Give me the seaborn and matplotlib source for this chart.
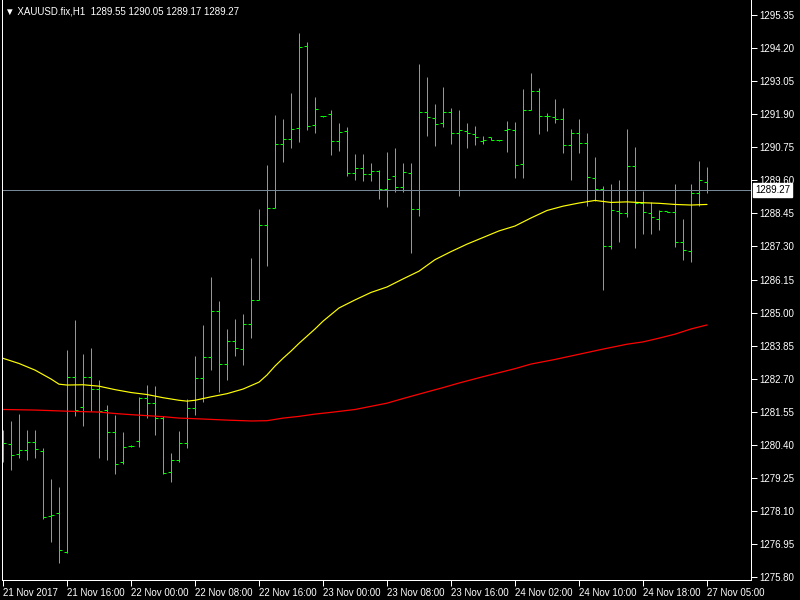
import numpy as np
import pandas as pd
import matplotlib
matplotlib.use("Agg")
import matplotlib.pyplot as plt
import seaborn as sns

# XAUUSD H1 bars, 21 Nov 08:00 .. 27 Nov 05:00
opens = [1280.57, 1280.42, 1280.07, 1280.21, 1280.49, 1280.17, 1277.91, 1278.02, 1276.69, 1282.75,
         1281.70, 1282.75, 1282.33, 1281.60, 1280.83, 1279.79, 1280.35, 1280.52, 1282.02, 1281.84,
         1281.35, 1279.44, 1279.89, 1280.45, 1281.67, 1282.71, 1283.45, 1285.04, 1283.20, 1284.00,
         1283.72, 1284.59, 1285.44, 1288.04, 1288.62, 1290.85, 1291.02, 1291.41, 1294.26, 1291.51,
         1291.82, 1291.89, 1290.96, 1291.30, 1289.84, 1290.02, 1289.81, 1289.91, 1289.29, 1289.74,
         1289.36, 1289.84, 1288.59, 1291.96, 1291.76, 1291.58, 1291.96, 1291.23, 1291.30, 1291.20,
         1290.96, 1291.09, 1290.99, 1291.34, 1291.34, 1290.16, 1292.03, 1292.69, 1291.82, 1291.79,
         1291.72, 1290.82, 1291.23, 1290.89, 1289.67, 1289.29, 1287.30, 1288.52, 1288.45, 1290.09,
         1288.80, 1288.45, 1288.24, 1288.52, 1288.49, 1287.44, 1287.13, 1289.15, 1289.55]
highs = [1280.91, 1281.23, 1281.47, 1280.91, 1280.91, 1280.29, 1279.21, 1278.93, 1283.70, 1284.74,
         1283.56, 1283.77, 1282.65, 1281.78, 1281.44, 1280.84, 1280.38, 1282.06, 1282.48, 1282.44,
         1281.39, 1280.10, 1280.88, 1281.99, 1283.49, 1284.57, 1286.24, 1285.40, 1284.43, 1284.77,
         1284.95, 1286.90, 1288.60, 1290.13, 1291.87, 1291.73, 1292.64, 1294.72, 1294.41, 1292.50,
         1291.85, 1292.04, 1291.59, 1291.45, 1290.51, 1290.51, 1290.20, 1289.96, 1290.58, 1290.72,
         1290.20, 1290.20, 1293.64, 1293.19, 1292.25, 1292.84, 1292.11, 1292.04, 1291.59, 1291.49,
         1291.14, 1291.09, 1291.00, 1291.66, 1291.63, 1292.77, 1293.33, 1292.81, 1291.94, 1292.43,
         1292.11, 1291.38, 1291.73, 1291.24, 1290.41, 1289.40, 1289.47, 1289.61, 1291.38, 1290.76,
         1289.23, 1288.83, 1288.56, 1288.52, 1289.47, 1288.25, 1289.47, 1290.27, 1290.05]
lows = [1279.81, 1279.52, 1279.95, 1279.88, 1279.95, 1277.83, 1277.03, 1276.30, 1276.65, 1281.41,
        1281.06, 1281.58, 1279.95, 1279.88, 1279.39, 1279.74, 1280.32, 1280.33, 1281.34, 1280.75,
        1279.39, 1279.11, 1279.81, 1280.30, 1281.45, 1281.90, 1283.01, 1282.25, 1282.66, 1283.50,
        1283.18, 1284.12, 1285.44, 1286.63, 1288.62, 1290.25, 1290.73, 1290.94, 1291.36, 1291.25,
        1291.80, 1290.49, 1290.63, 1289.76, 1289.62, 1289.58, 1289.58, 1288.96, 1288.68, 1289.20,
        1289.20, 1287.07, 1288.37, 1291.15, 1290.80, 1291.46, 1290.87, 1289.06, 1290.72, 1290.83,
        1290.86, 1290.99, 1290.98, 1290.58, 1289.68, 1289.68, 1292.03, 1291.21, 1291.31, 1291.60,
        1290.55, 1289.61, 1290.55, 1288.72, 1288.89, 1285.78, 1287.22, 1287.46, 1288.33, 1287.25,
        1287.74, 1287.74, 1287.88, 1288.49, 1287.29, 1286.84, 1286.77, 1288.72, 1289.17]
closes = [1280.45, 1280.03, 1280.21, 1280.49, 1280.24, 1277.90, 1277.95, 1276.76, 1282.75, 1281.60,
          1282.75, 1282.33, 1281.57, 1280.83, 1279.75, 1280.31, 1280.35, 1282.02, 1281.84, 1281.35,
          1279.41, 1279.89, 1280.45, 1281.67, 1282.71, 1283.45, 1285.04, 1283.20, 1284.00, 1283.76,
          1284.59, 1285.44, 1288.04, 1288.62, 1290.85, 1291.02, 1291.37, 1294.22, 1291.48, 1292.07,
          1291.82, 1290.96, 1291.27, 1289.84, 1290.02, 1289.81, 1289.91, 1289.29, 1289.63, 1289.36,
          1289.88, 1288.59, 1291.96, 1291.79, 1291.55, 1291.96, 1291.23, 1291.34, 1291.23, 1291.09,
          1290.99, 1290.99, 1290.99, 1291.37, 1290.12, 1292.03, 1292.69, 1291.82, 1291.82, 1291.72,
          1290.82, 1291.23, 1290.89, 1289.70, 1289.29, 1287.30, 1288.56, 1288.45, 1290.09, 1288.80,
          1288.49, 1288.31, 1288.52, 1288.49, 1287.44, 1287.16, 1289.15, 1289.60, 1289.27]

# moving averages (bar index, price)
yellow_idx = [0, 2, 4, 6, 7, 8, 10, 12, 14, 16, 18, 20, 22, 23, 24, 26, 28, 30, 32, 33, 34, 35, 36,
              37, 38, 39, 40, 42, 44, 46, 48, 50, 52, 54, 56, 58, 60, 62, 64, 66, 68, 70, 72, 74,
              76, 78, 80, 82, 84, 86, 88]
yellow_ma = [1283.41, 1283.23, 1283.00, 1282.69, 1282.51, 1282.48, 1282.49, 1282.44, 1282.32, 1282.22,
             1282.15, 1282.04, 1281.95, 1281.92, 1281.95, 1282.07, 1282.18, 1282.34, 1282.58, 1282.83,
             1283.14, 1283.41, 1283.66, 1283.93, 1284.18, 1284.43, 1284.70, 1285.16, 1285.44, 1285.70,
             1285.89, 1286.17, 1286.44, 1286.84, 1287.12, 1287.38, 1287.61, 1287.84, 1288.01, 1288.29,
             1288.55, 1288.70, 1288.81, 1288.90, 1288.83, 1288.85, 1288.82, 1288.80, 1288.76, 1288.74,
             1288.76]
red_idx = [0, 4, 8, 12, 14, 16, 20, 22, 24, 28, 31, 33, 35, 37, 39, 41, 44, 46, 48, 50, 53, 55, 57,
           60, 62, 64, 66, 69, 71, 73, 75, 78, 80, 82, 84, 86, 88]
red_ma = [1281.63, 1281.61, 1281.57, 1281.54, 1281.49, 1281.45, 1281.38, 1281.33, 1281.31, 1281.26,
          1281.23, 1281.24, 1281.33, 1281.39, 1281.47, 1281.53, 1281.63, 1281.74, 1281.85, 1282.01,
          1282.24, 1282.39, 1282.55, 1282.77, 1282.91, 1283.05, 1283.21, 1283.37, 1283.49, 1283.61,
          1283.73, 1283.90, 1283.98, 1284.11, 1284.25, 1284.43, 1284.57]

time_labels = ["21 Nov 2017", "21 Nov 16:00", "22 Nov 00:00", "22 Nov 08:00", "22 Nov 16:00",
               "23 Nov 00:00", "23 Nov 08:00", "23 Nov 16:00", "24 Nov 02:00", "24 Nov 10:00",
               "24 Nov 18:00", "27 Nov 05:00"]
price_ticks = [1275.80, 1276.95, 1278.10, 1279.25, 1280.40, 1281.55, 1282.70, 1283.85, 1285.00,
               1286.15, 1287.30, 1288.45, 1289.60, 1290.75, 1291.90, 1293.05, 1294.20, 1295.35]
last_price = 1289.27
header = "\u25bc XAUUSD.fix,H1  1289.55 1290.05 1289.17 1289.27"

sns.set_theme(style="dark", rc={"axes.facecolor": "black", "figure.facecolor": "black"})
plt.rcParams["font.family"] = ["Liberation Sans", "DejaVu Sans"]

bar_color = "#00ff00"
px = 0.72  # one pixel at 100 dpi

fig = plt.figure(figsize=(8, 6), dpi=100)
ax = fig.add_axes([2 / 800, 20 / 600, 749 / 800, 580 / 600])
ax.set_facecolor("black")

# OHLC bars: high-low stick, open tick left, close tick right
idx = np.arange(len(opens))
ax.vlines(idx, lows, highs, color=bar_color, lw=px, snap=True)
ax.hlines(opens, idx - 0.375, idx, color=bar_color, lw=px, snap=True)
ax.hlines(closes, idx, idx + 0.375, color=bar_color, lw=px, snap=True)

yellow_df = pd.DataFrame({"bar": yellow_idx, "ma": yellow_ma})
red_df = pd.DataFrame({"bar": red_idx, "ma": red_ma})
sns.lineplot(data=red_df, x="bar", y="ma", color="#ff0000", lw=0.9, ax=ax)
sns.lineplot(data=yellow_df, x="bar", y="ma", color="#ffff00", lw=0.85, ax=ax)

ax.axhline(last_price, color="#778899", lw=px, snap=True)

ax.set_xlim(-0.125, 93.5)
ax.set_ylim(1275.70, 1295.87)
ax.set_xlabel("")
ax.set_ylabel("")
ax.grid(False)

for side in ["left", "bottom", "right"]:
    ax.spines[side].set_visible(True)
    ax.spines[side].set_color("white")
    ax.spines[side].set_linewidth(px)
ax.spines["top"].set_visible(False)

ax.yaxis.tick_right()
ax.set_yticks(price_ticks)
ax.set_yticklabels([f"{v:.2f}" for v in price_ticks])
ax.set_xticks(np.arange(0, len(time_labels) * 8, 8))
ax.set_xticklabels(time_labels)
for lbl in ax.get_xticklabels():
    lbl.set_horizontalalignment("left")
ax.tick_params(axis="both", colors="white", labelcolor="white", labelsize=7,
               length=4, width=px, direction="out")
ax.tick_params(axis="y", pad=2, right=True, left=False)
ax.tick_params(axis="x", pad=2, bottom=True)

ax.annotate(f"{last_price:.2f}", xy=(1.0, last_price), xycoords=("axes fraction", "data"),
            xytext=(3, 0), textcoords="offset points", va="center", ha="left",
            color="black", fontsize=7,
            bbox=dict(boxstyle="square,pad=0.2", fc="white", ec="white"))

fig.text(5 / 800, 1 - 11 / 600, header, color="white", fontsize=7, va="center", ha="left")

fig.savefig("out.png", dpi=100, facecolor="black")
